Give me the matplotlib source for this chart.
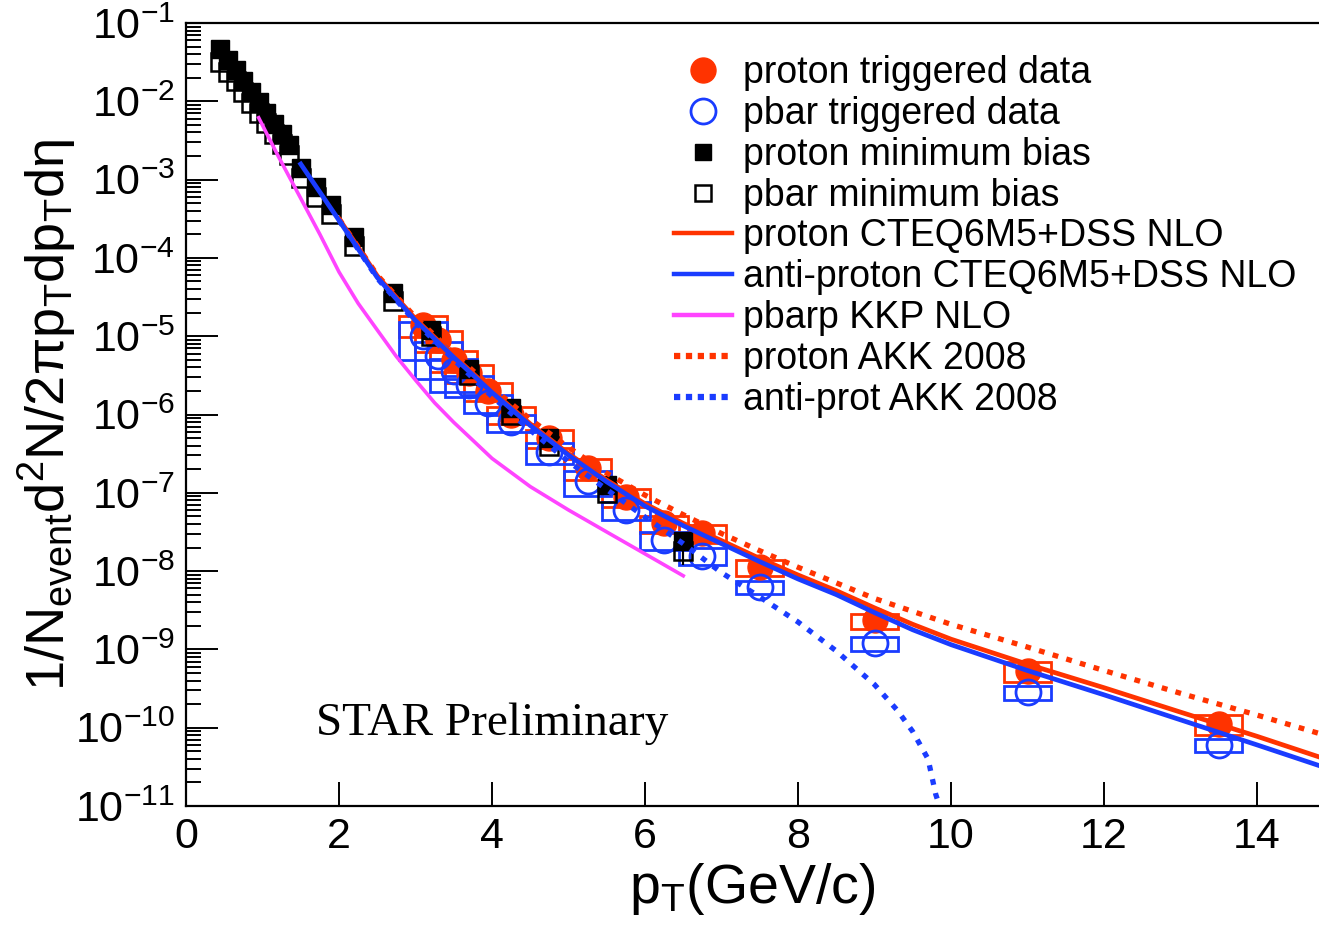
import numpy as np
import matplotlib
matplotlib.use('Agg')
import matplotlib.pyplot as plt
from matplotlib.patches import Rectangle
from matplotlib.lines import Line2D
from matplotlib.ticker import FixedLocator, LogLocator, NullFormatter, FixedFormatter

plt.rcParams['font.family'] = ['Liberation Sans', 'DejaVu Sans']
plt.rcParams['mathtext.fontset'] = 'custom'
plt.rcParams['mathtext.rm'] = 'Liberation Sans'
plt.rcParams['mathtext.it'] = 'Liberation Sans'
plt.rcParams['mathtext.sf'] = 'Liberation Sans'
plt.rcParams['mathtext.bf'] = 'Liberation Sans:bold'

# ---------------- data ----------------
# minimum-bias spectra
mb_pt = [0.45, 0.55, 0.65, 0.75, 0.85, 0.95, 1.05, 1.15, 1.25, 1.35, 1.5, 1.7, 1.9,
         2.2, 2.7, 3.2, 3.7, 4.25, 4.75, 5.5, 6.5]
proton_mb = [4.68e-2, 3.39e-2, 2.51e-2, 1.82e-2, 1.32e-2, 9.77e-3, 7.08e-3, 5.13e-3,
             3.80e-3, 2.75e-3, 1.41e-3, 7.94e-4, 4.68e-4, 1.86e-4, 3.55e-5, 1.20e-5,
             3.80e-6, 1.20e-6, 5.01e-7, 1.26e-7, 2.40e-8]
pbar_mb = [3.16e-2, 2.40e-2, 1.82e-2, 1.32e-2, 9.55e-3, 7.08e-3, 5.25e-3, 3.80e-3,
           2.82e-3, 2.09e-3, 1.05e-3, 6.03e-4, 3.63e-4, 1.41e-4, 2.82e-5, 1.00e-5,
           3.16e-6, 1.00e-6, 3.98e-7, 1.00e-7, 1.78e-8]
proton_mb_err = [0]*20 + [1.2e-8]
pbar_mb_err = [0]*20 + [6.0e-9]

# triggered spectra
trig_pt = [3.1, 3.3, 3.5, 3.7, 3.95, 4.25, 4.75, 5.25, 5.75, 6.25, 6.75, 7.5, 9.0, 11.0, 13.5]
proton_trig = [1.41e-5, 8.91e-6, 5.01e-6, 3.39e-6, 2.00e-6, 1.00e-6, 5.01e-7, 2.09e-7,
               8.91e-8, 4.07e-8, 3.09e-8, 1.12e-8, 2.34e-9, 5.37e-10, 1.12e-10]
pbar_trig = [1.00e-5, 5.62e-6, 3.55e-6, 2.40e-6, 1.41e-6, 7.94e-7, 3.31e-7, 1.41e-7,
             6.03e-8, 2.51e-8, 1.58e-8, 6.31e-9, 1.20e-9, 2.82e-10, 6.03e-11]
proton_sys = [0.30, 0.30, 0.30, 0.25, 0.25, 0.25, 0.25, 0.30, 0.25, 0.25, 0.25, 0.22,
              0.22, 0.28, 0.28]
pbar_sys = [0.50, 0.50, 0.45, 0.30, 0.25, 0.25, 0.30, 0.35, 0.25, 0.25, 0.25, 0.20,
            0.20, 0.20, 0.20]

# NLO / AKK curves
cteq_pbar_pt = [1.5, 2.0, 2.5, 3.0, 3.5, 4.0, 4.5, 5.0, 5.5, 6.0, 6.5, 7.0, 7.5, 8.0,
                8.5, 9.0, 9.5, 10.0, 11.0, 12.0, 13.0, 14.0, 14.8]
cteq_pbar = [1.58e-3, 3.02e-4, 5.62e-5, 1.58e-5, 5.37e-6, 1.91e-6, 7.24e-7, 3.02e-7,
             1.38e-7, 6.76e-8, 3.80e-8, 2.24e-8, 1.32e-8, 7.94e-9, 5.01e-9, 2.95e-9,
             1.78e-9, 1.15e-9, 5.37e-10, 2.63e-10, 1.26e-10, 6.03e-11, 3.31e-11]
cteq_p_pt = [2.0, 2.5, 3.0, 3.5, 4.0, 4.5, 5.0, 5.5, 6.0, 6.5, 7.0, 7.5, 8.0, 8.5,
             9.0, 9.5, 10.0, 11.0, 12.0, 13.0, 14.0, 14.8]
cteq_p = [3.16e-4, 5.89e-5, 1.66e-5, 5.62e-6, 2.00e-6, 7.59e-7, 3.16e-7, 1.45e-7,
          7.24e-8, 4.07e-8, 2.45e-8, 1.45e-8, 8.91e-9, 5.62e-9, 3.39e-9, 2.09e-9,
          1.35e-9, 6.46e-10, 3.24e-10, 1.58e-10, 7.76e-11, 4.27e-11]
kkp_pt = [0.95, 1.2, 1.5, 1.75, 2.0, 2.25, 2.5, 2.75, 3.0, 3.25, 3.5, 3.75, 4.0, 4.5,
          5.0, 5.5, 6.0, 6.5]
kkp = [6.17e-3, 2.04e-3, 5.75e-4, 2.00e-4, 6.61e-5, 2.63e-5, 1.20e-5, 5.50e-6,
       2.75e-6, 1.41e-6, 7.94e-7, 4.68e-7, 2.75e-7, 1.20e-7, 6.03e-8, 3.16e-8,
       1.66e-8, 8.71e-9]
akk_p_pt = [2.0, 2.5, 3.0, 3.5, 4.0, 4.5, 5.0, 5.5, 6.0, 6.5, 7.0, 7.5, 8.0, 9.0,
            10.0, 11.0, 12.0, 13.0, 14.0, 14.8]
akk_p = [3.16e-4, 6.03e-5, 1.74e-5, 6.03e-6, 2.19e-6, 8.71e-7, 3.80e-7, 1.78e-7,
         9.33e-8, 5.25e-8, 3.02e-8, 1.82e-8, 1.12e-8, 4.47e-9, 2.09e-9, 1.07e-9,
         5.37e-10, 2.75e-10, 1.45e-10, 8.51e-11]
akk_pbar_pt = [2.0, 2.5, 3.0, 3.5, 4.0, 4.5, 5.0, 5.5, 6.0, 6.5, 7.0, 7.5, 8.0, 8.5,
               9.0, 9.3, 9.5, 9.7, 9.8, 9.85, 9.9]
akk_pbar = [3.02e-4, 5.50e-5, 1.51e-5, 5.01e-6, 1.70e-6, 6.31e-7, 2.51e-7, 1.10e-7,
            4.90e-8, 2.24e-8, 9.55e-9, 4.68e-9, 2.24e-9, 9.55e-10, 3.55e-10, 1.66e-10,
            8.91e-11, 3.98e-11, 1.41e-11, 1.0e-11, 6.0e-12]

x_ticks = [0, 2, 4, 6, 8, 10, 12, 14]
y_exponents = [-11, -10, -9, -8, -7, -6, -5, -4, -3, -2, -1]

RED = '#ff3300'
BLUE = '#1a3cff'
MAG = '#ff44ff'

# ---------------- figure ----------------
fig = plt.figure(figsize=(13.19, 9.35), dpi=100)
ax = fig.add_axes([186/1319, 1 - 806/935, 1 - 186/1319, (806 - 23)/935])
ax.set_yscale('log')
ax.set_xlim(0, 14.81)
ax.set_ylim(1e-11, 1e-1)

# systematic boxes
box_hw = 0.31
for x, y, s in zip(trig_pt, proton_trig, proton_sys):
    ax.add_patch(Rectangle((x - box_hw, y * (1 - s)), 2 * box_hw, y * 2 * s,
                           fill=False, ec=RED, lw=2.0, zorder=2))
for x, y, s in zip(trig_pt, pbar_trig, pbar_sys):
    ax.add_patch(Rectangle((x - box_hw, y * (1 - s)), 2 * box_hw, y * 2 * s,
                           fill=False, ec=BLUE, lw=2.0, zorder=2))

ax.plot(trig_pt, proton_trig, 'o', ms=18, color=RED, mec=RED, zorder=3)
ax.plot(trig_pt, pbar_trig, 'o', ms=18, mfc='none', mec=BLUE, mew=2.0, zorder=3)

ax.errorbar(mb_pt, proton_mb, yerr=[proton_mb_err, [0]*len(mb_pt)], fmt='s', ms=13,
            color='black', ecolor='black', elinewidth=1.5, capsize=0, zorder=4)
ax.errorbar(mb_pt, pbar_mb, yerr=[pbar_mb_err, [0]*len(mb_pt)], fmt='s', ms=13,
            mfc='none', mec='black', mew=1.8, ecolor='black', elinewidth=1.5,
            capsize=0, zorder=4)

ax.plot(cteq_p_pt, cteq_p, '-', color=RED, lw=3.4, zorder=5)
ax.plot(cteq_pbar_pt, cteq_pbar, '-', color=BLUE, lw=3.4, zorder=6)
ax.plot(kkp_pt, kkp, '-', color=MAG, lw=2.6, zorder=5)
ax.plot(akk_p_pt, akk_p, color=RED, lw=3.8, ls=(0, (1.1, 1.6)), zorder=5)
ax.plot(akk_pbar_pt, akk_pbar, color=BLUE, lw=3.8, ls=(0, (1.1, 1.6)), zorder=5)

# axes styling
for side in ['left', 'bottom', 'top']:
    ax.spines[side].set_linewidth(1.6)
ax.spines['right'].set_visible(False)

ax.xaxis.set_major_locator(FixedLocator(x_ticks))
ax.set_xticklabels([str(v) for v in x_ticks])
ax.yaxis.set_major_locator(FixedLocator([10.0**e for e in y_exponents]))
ax.yaxis.set_major_formatter(FixedFormatter([r'$10^{%d}$' % e for e in y_exponents]))
ax.yaxis.set_minor_locator(LogLocator(base=10, subs=np.arange(2, 10), numticks=100))
ax.yaxis.set_minor_formatter(NullFormatter())
ax.tick_params(axis='x', which='major', direction='in', length=17, width=1.4,
               labelsize=31, pad=8, top=False)
ax.tick_params(axis='x', which='minor', bottom=False, top=False)
ax.tick_params(axis='y', which='major', direction='in', length=23, width=1.4,
               labelsize=31, pad=8, right=False)
ax.tick_params(axis='y', which='minor', direction='in', length=11, width=1.4,
               right=False)

ax.set_xlabel(r'$\mathrm{p_{T}(GeV/c)}$', fontsize=40, labelpad=3)
ax.set_ylabel(r'$\mathrm{1/N_{event}d^2N/2\pi p_{T}dp_{T}d\eta}$', fontsize=39,
              labelpad=-2)

ax.text(1.70, 8.1e-11, 'STAR Preliminary', family=['Liberation Serif', 'DejaVu Serif'],
        fontsize=34, ha='left', va='baseline', zorder=7)

# legend
handles = [
    Line2D([], [], ls='none', marker='o', ms=18, color=RED),
    Line2D([], [], ls='none', marker='o', ms=18, mfc='none', mec=BLUE, mew=2.0),
    Line2D([], [], ls='none', marker='s', ms=11, color='black'),
    Line2D([], [], ls='none', marker='s', ms=11, mfc='none', mec='black', mew=1.8),
    Line2D([], [], color=RED, lw=3.2),
    Line2D([], [], color=BLUE, lw=3.2),
    Line2D([], [], color=MAG, lw=3.2),
    Line2D([], [], color=RED, lw=4.5, ls=(0, (1.0, 0.9))),
    Line2D([], [], color=BLUE, lw=4.5, ls=(0, (1.0, 0.9))),
]
labels = ['proton triggered data', 'pbar triggered data', 'proton minimum bias',
          'pbar minimum bias', 'proton CTEQ6M5+DSS NLO', 'anti-proton CTEQ6M5+DSS NLO',
          'pbarp KKP NLO', 'proton AKK 2008', 'anti-prot AKK 2008']
leg = fig.legend(handles, labels, loc='upper left',
                 bbox_to_anchor=(674/1319, 1 - 55/935), frameon=False, fontsize=27,
                 handlelength=1.55, handletextpad=0.3, labelspacing=0.13,
                 borderpad=0, borderaxespad=0)

fig.savefig('out.png', dpi=100)
